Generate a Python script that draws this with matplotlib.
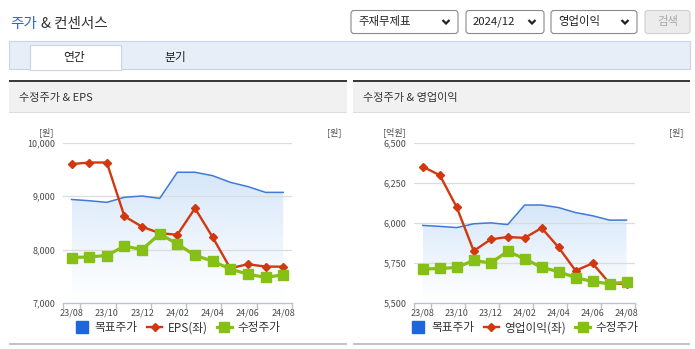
import matplotlib
matplotlib.use("Agg")
import matplotlib.pyplot as plt
import numpy as np
from matplotlib.patches import Rectangle, FancyBboxPatch
from matplotlib.lines import Line2D
from matplotlib.transforms import Affine2D
from matplotlib.ticker import FuncFormatter, FixedLocator

plt.rcParams['font.family'] = ['Noto Sans CJK KR', 'DejaVu Sans']

# ---------------- data ----------------
months = ["23/08", "23/09", "23/10", "23/11", "23/12", "24/01", "24/02",
          "24/03", "24/04", "24/05", "24/06", "24/07", "24/08"]
tick_labels = ["23/08", "23/10", "23/12", "24/02", "24/04", "24/06", "24/08"]
target_price = [98500, 97900, 97150, 99500, 100100, 99000, 111200,
                111200, 109600, 106500, 104500, 101800, 101800]
adj_price = [71300, 71700, 72300, 76700, 75100, 82400, 77700,
             72400, 69700, 66000, 63600, 62100, 63300]
eps = [9600, 9630, 9630, 8625, 8430, 8310, 8280, 8775, 8235, 7655, 7730, 7685, 7685]
op_profit = [6350, 6298, 6098, 5826, 5898, 5913, 5907, 5969, 5848, 5703, 5749, 5625, 5620]

W, H = 695, 349
fig = plt.figure(figsize=(W / 100, H / 100), dpi=100)
fig.patch.set_facecolor("white")
T = Affine2D().scale(1 / W, -1 / H).translate(0, 1) + fig.transFigure


def ftext(x, y, s, **kw):
    return fig.text(x / W, 1 - y / H, s, **kw)


def rect(x0, y0, x1, y1, fc, ec="none", lw=0, rounding=None, z=0):
    if rounding:
        p = FancyBboxPatch((x0, y0), x1 - x0, y1 - y0,
                           boxstyle=f"round,pad=0,rounding_size={rounding}",
                           fc=fc, ec=ec, lw=lw, transform=T, zorder=z)
    else:
        p = Rectangle((x0, y0), x1 - x0, y1 - y0, fc=fc, ec=ec, lw=lw,
                      transform=T, zorder=z)
    fig.add_artist(p)


def fline(xs, ys, color, lw):
    fig.add_artist(Line2D(xs, ys, color=color, lw=lw, transform=T,
                          solid_capstyle="butt", solid_joinstyle="miter"))


# ---------------- page header ----------------
t1 = ftext(10, 24, "주가", color="#2a67cc", fontsize=10.5, va="center", ha="left")
fig.canvas.draw()
bb = t1.get_window_extent()
ftext(bb.x1 + 4, 24, "& 컨센서스", color="#333333", fontsize=10.5, va="center", ha="left")

dropdowns = [(351, 458, "주재무제표"), (466, 544, "2024/12"), (551, 637, "영업이익")]
for x0, x1, lab in dropdowns:
    rect(x0, 10.5, x1, 33.5, "white", "#8a8a8a", 0.8, rounding=3)
    ftext(x0 + 7, 22, lab, color="#222222", fontsize=8.2, va="center", ha="left")
    cx = x1 - 12
    fline([cx - 3.5, cx, cx + 3.5], [20, 23.5, 20], "#222222", 1.6)
rect(645, 10.5, 690, 33.5, "#ececec", "#cfcfcf", 0.8, rounding=3)
ftext(667.5, 22, "검색", color="#a8a8a8", fontsize=8.2, va="center", ha="center")

# tab band
rect(8.5, 40.5, 690, 69, "#e8eef8", "#c9d4e6", 0.8)
rect(30, 45, 121, 70, "white", "#c9d4e6", 0.8)
rect(30.5, 68, 120.5, 70, "white")
ftext(74, 57, "연간", color="#222222", fontsize=8.5, va="center", ha="center")
ftext(175, 57, "분기", color="#222222", fontsize=8.5, va="center", ha="center")

# panels
panels = [(9, 347, "수정주가 & EPS"), (353, 690, "수정주가 & 영업이익")]
for x0, x1, title in panels:
    rect(x0, 81.5, x1, 112, "#f1f1f1")
    rect(x0, 79.5, x1, 81.5, "#3a3a3a")
    rect(x0, 111.5, x1, 112.5, "#dddddd")
    ftext(x0 + 10, 98, title, color="#333333", fontsize=8, va="center", ha="left")
    rect(x0, 342.5, x1, 344.5, "#c4c4c4")

# ---------------- charts ----------------
x = np.arange(len(months))
tick_pos = [months.index(t) for t in tick_labels]
BLUE_LINE = "#3f7ad8"
RED = "#d2380d"
GREEN = "#86bf16"
LABEL_C = "#4a4a4a"


def make_chart(left_px, right_px, left_vals, left_lim, left_step, left_unit,
               right_lim, right_step, red_label):
    top_px, bot_px = 142.7, 303.3
    rect_ax = [left_px / W, 1 - bot_px / H, (right_px - left_px) / W, (bot_px - top_px) / H]
    ax2 = fig.add_axes(rect_ax)            # right scale: target price (back)
    ax = fig.add_axes(rect_ax, sharex=ax2)  # left scale: red series (middle)
    ax3 = fig.add_axes(rect_ax, sharex=ax2, sharey=ax2)  # right scale: adj price (top)
    ax2.set_zorder(1); ax.set_zorder(2); ax3.set_zorder(3)
    for a in (ax, ax3):
        a.patch.set_visible(False)
    ax2.patch.set_visible(False)

    # target price with gradient fill
    poly = ax2.fill_between(x, target_price, right_lim[0], color="none", lw=0)
    grad = np.zeros((256, 1, 4))
    grad[:, 0, 0] = 0.83
    grad[:, 0, 1] = 0.90
    grad[:, 0, 2] = 0.98
    grad[:, 0, 3] = np.linspace(0.0, 0.95, 256) ** 1.1
    im = ax2.imshow(grad, extent=[x[0], x[-1], right_lim[0], max(target_price)],
                    origin="lower", aspect="auto", zorder=1, interpolation="bilinear")
    im.set_clip_path(poly.get_paths()[0], transform=ax2.transData)
    ax2.plot(x, target_price, color=BLUE_LINE, lw=1.1, zorder=3)

    ax.plot(x, left_vals, color=RED, lw=1.7, marker="D", markersize=4.3, zorder=3)
    ax3.plot(x, adj_price, color=GREEN, lw=2.3, marker="s", markersize=6.5, zorder=3)

    ax2.set_xlim(-0.5, len(x) - 0.5)
    ax2.set_ylim(*right_lim)
    ax.set_ylim(*left_lim)

    # grid on back axes
    for v in np.arange(right_lim[0] + right_step, right_lim[1] + 1, right_step):
        ax2.axhline(v, color="#dcdcdc", lw=0.9, zorder=2)

    for a in (ax, ax2, ax3):
        for s in a.spines.values():
            s.set_visible(False)
    ax2.spines["bottom"].set_visible(True)
    ax2.spines["bottom"].set_color("#b8c2d4")
    ax2.spines["bottom"].set_linewidth(1)

    # x ticks
    ax2.xaxis.set_major_locator(FixedLocator(tick_pos))
    ax2.set_xticklabels(tick_labels)
    ax2.xaxis.set_minor_locator(FixedLocator([-0.5] + [p + 0.5 for p in tick_pos]))
    ax2.tick_params(axis="x", which="major", length=0, pad=4, labelsize=6.5, labelcolor=LABEL_C)
    ax2.tick_params(axis="x", which="minor", length=4, color="#b8c2d4", width=1)
    for a in (ax, ax3):
        a.tick_params(axis="x", which="both", length=0, labelbottom=False)

    # y ticks
    ax.set_yticks(np.arange(left_lim[0], left_lim[1] + 1, left_step))
    ax.yaxis.set_major_formatter(FuncFormatter(lambda v, p: f"{int(v):,}"))
    ax.tick_params(axis="y", length=0, pad=5.5, labelsize=6.5, labelcolor=LABEL_C,
                   left=False, labelleft=True, right=False, labelright=False)
    ax2.set_yticks(np.arange(right_lim[0], right_lim[1] + 1, right_step))
    ax2.yaxis.set_major_formatter(FuncFormatter(lambda v, p: f"{int(v):,}"))
    ax2.tick_params(axis="y", length=0, pad=4.5, labelsize=6.5, labelcolor=LABEL_C,
                    left=False, labelleft=False, right=False, labelright=True)
    ax3.tick_params(axis="y", length=0, left=False, labelleft=False)
    ax3.set_yticks([])

    # unit labels
    ftext(left_px - 9, 132, left_unit, color=LABEL_C, fontsize=6.5, ha="right", va="center")
    ftext(right_px + 49, 132, "[원]", color=LABEL_C, fontsize=6.5, ha="right", va="center")

    # legend
    handles = [
        Line2D([], [], color="#1f66d9", marker="s", markersize=8.5, linestyle="none"),
        Line2D([], [], color=RED, lw=1.7, marker="D", markersize=4.3),
        Line2D([], [], color=GREEN, lw=2.3, marker="s", markersize=6.5),
    ]
    cx = (left_px + right_px) / 2 / W
    leg = ax3.legend(handles, ["목표주가", red_label, "수정주가"], ncol=3,
                     loc="center", bbox_to_anchor=(cx, 1 - 328 / H),
                     bbox_transform=fig.transFigure, frameon=False,
                     fontsize=8.4, handlelength=1.3, handletextpad=0.45,
                     columnspacing=0.8, borderpad=0, borderaxespad=0)
    for t in leg.get_texts():
        t.set_color("#333333")


make_chart(62.7, 292, eps, (7000, 10000), 1000, "[원]",
           (50000, 125000), 25000, "EPS(좌)")
make_chart(414.3, 635, op_profit, (5500, 6500), 250, "[억원]",
           (50000, 150000), 25000, "영업이익(좌)")

fig.savefig("out.png", dpi=100, facecolor="white")
